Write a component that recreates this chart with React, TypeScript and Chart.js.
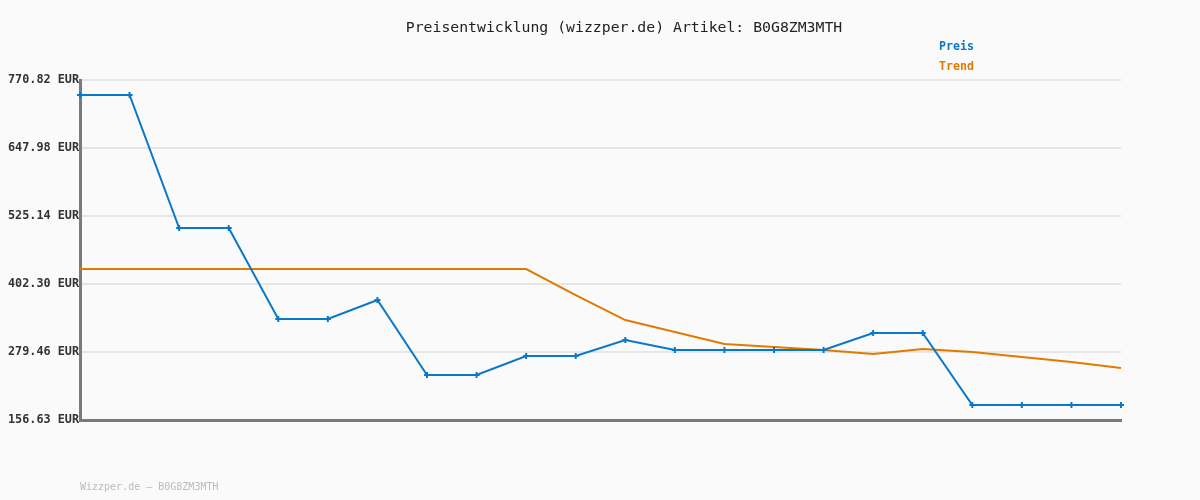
import React, { useEffect, useRef } from "react";
import { Chart, registerables } from "chart.js";

Chart.register(...registerables);

const categories: string[] = [
  "1", "2", "3", "4", "5", "6", "7", "8", "9", "10", "11",
  "12", "13", "14", "15", "16", "17", "18", "19", "20", "21", "22",
];
const priceValues: number[] = [
  743.7, 743.7, 503.5, 503.5, 339.1, 339.1, 373.4, 237.9, 237.9, 272.2, 272.2,
  301.1, 283.0, 283.0, 283.0, 283.0, 313.8, 313.8, 183.7, 183.7, 183.7, 183.7,
];
const trendValues: number[] = [
  429.4, 429.4, 429.4, 429.4, 429.4, 429.4, 429.4, 429.4, 429.4, 429.4, 382.4,
  337.2, 315.6, 293.9, 288.5, 283.0, 275.8, 284.9, 279.5, 270.4, 261.4, 250.5,
];
const yTicks: number[] = [156.63, 279.46, 402.3, 525.14, 647.98, 770.82];

const titleText = "Preisentwicklung (wizzper.de) Artikel: B0G8ZM3MTH";
const legendLabels: string[] = ["Preis", "Trend"];
const footerText = "Wizzper.de \u2013 B0G8ZM3MTH";

const BLUE = "#0a78c8";
const ORANGE = "#e07b00";
const MONO = "'DejaVu Sans Mono', 'Liberation Mono', monospace";

const decorPlugin = {
  id: "decor",
  beforeDraw(chart: any) {
    const ctx = chart.ctx;
    ctx.save();
    ctx.fillStyle = "#fafafa";
    ctx.fillRect(0, 0, chart.width, chart.height);
    ctx.restore();
  },
  afterDraw(chart: any) {
    const ctx = chart.ctx;
    ctx.save();
    ctx.textBaseline = "middle";
    ctx.textAlign = "center";
    ctx.fillStyle = "#222222";
    ctx.font = `14.8px ${MONO}`;
    ctx.fillText(titleText, 624, 28);

    ctx.textAlign = "left";
    ctx.font = `bold 11.6px ${MONO}`;
    ctx.fillStyle = BLUE;
    ctx.fillText(legendLabels[0], 939, 47);
    ctx.fillStyle = ORANGE;
    ctx.fillText(legendLabels[1], 939, 67);

    ctx.font = `10px ${MONO}`;
    ctx.fillStyle = "#bbbbbb";
    ctx.fillText(footerText, 80, 487);
    ctx.restore();
  },
};

export default function App() {
  const canvasRef = useRef<HTMLCanvasElement | null>(null);

  useEffect(() => {
    if (!canvasRef.current) return;
    const chart = new Chart(canvasRef.current, {
      type: "line",
      data: {
        labels: categories,
        datasets: [
          {
            label: legendLabels[0],
            data: priceValues,
            borderColor: BLUE,
            backgroundColor: BLUE,
            borderWidth: 2,
            pointStyle: "cross",
            pointRadius: 3,
            pointBorderWidth: 2,
            pointBorderColor: BLUE,
            tension: 0,
            order: 1,
          },
          {
            label: legendLabels[1],
            data: trendValues,
            borderColor: ORANGE,
            backgroundColor: ORANGE,
            borderWidth: 2,
            pointRadius: 0,
            tension: 0,
            order: 2,
          },
        ],
      },
      options: {
        responsive: false,
        animation: false,
        layout: { padding: { top: 80, right: 79, bottom: 80, left: 0 } },
        plugins: {
          legend: { display: false },
          title: { display: false },
          tooltip: { enabled: false },
        },
        scales: {
          x: {
            offset: false,
            grid: { display: false },
            ticks: { display: false },
            border: { display: true, color: "#7a7a7a", width: 3 },
            afterFit: (s: any) => {
              s.height = 0;
            },
          },
          y: {
            min: yTicks[0],
            max: yTicks[yTicks.length - 1],
            afterBuildTicks: (s: any) => {
              s.ticks = yTicks.map((v) => ({ value: v }));
            },
            afterFit: (s: any) => {
              s.width = 80;
            },
            grid: {
              color: "#e6e6e6",
              lineWidth: 2,
              drawTicks: false,
            },
            border: { display: true, color: "#7a7a7a", width: 3 },
            ticks: {
              padding: 1,
              color: "#333333",
              font: { family: MONO, size: 11.8, weight: "bold" },
              callback: (v: any) => `${Number(v).toFixed(2)} EUR`,
            },
          },
        },
      },
      plugins: [decorPlugin],
    } as any);
    return () => chart.destroy();
  }, []);

  return (
    <div style={{ position: "absolute", left: 0, top: 0, width: 1200, height: 500 }}>
      <canvas ref={canvasRef} width={1200} height={500} style={{ display: "block" }} />
    </div>
  );
}
